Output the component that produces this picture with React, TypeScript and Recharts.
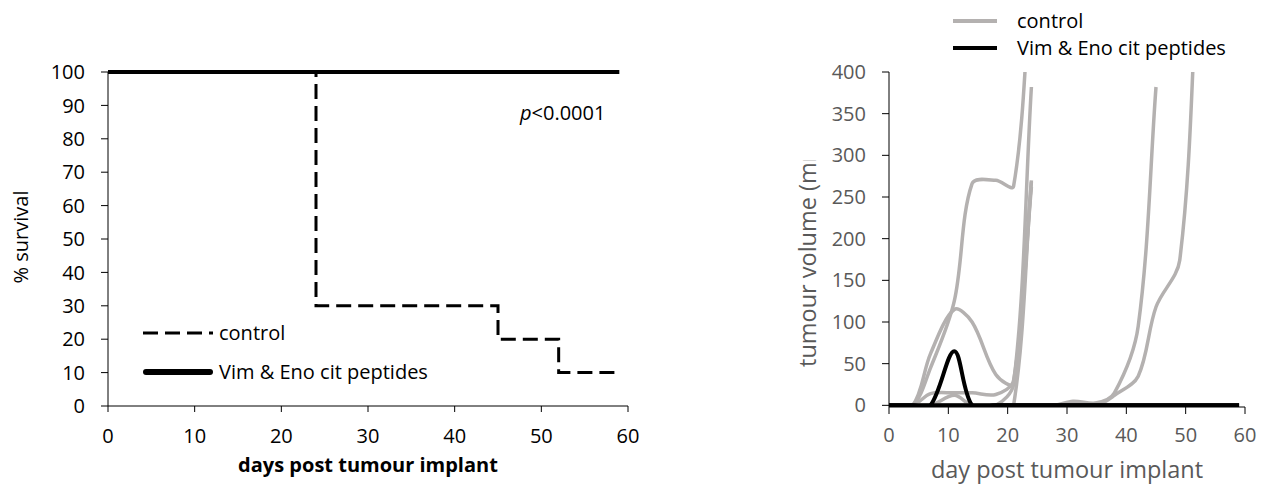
import React from "react";
import { LineChart, Line, XAxis, YAxis, Label, Legend } from "recharts";

// Two panels side by side: Kaplan–Meier survival (left) and per-mouse
// tumour growth curves (right). Fonts approximate the Office look.
const FONT = '"Open Sans", "DejaVu Sans", sans-serif';
const GREY = "#b4b1b0";
const TEXT_GREY = "#595959";

// ---- survival (% alive per group) ----
const survDaysControl = [0, 24, 45, 52, 59];
const survControl = [100, 30, 20, 10, 10];
const survDaysVim = [0, 59];
const survVim = [100, 100];
const dayTicks = [0, 10, 20, 30, 40, 50, 60];
const survTicks = [0, 10, 20, 30, 40, 50, 60, 70, 80, 90, 100];

// ---- tumour volume, one array per mouse ----
const daysTo24 = [0, 4, 7, 11, 14, 18, 21, 24];
const daysTo45 = [0, 4, 7, 11, 14, 18, 21, 24, 28, 31, 35, 38, 42, 45];
const daysTo52 = [0, 4, 7, 11, 14, 18, 21, 24, 28, 31, 35, 38, 42, 45, 49, 52];
const daysTo59 = [0, 4, 7, 11, 14, 18, 21, 24, 28, 31, 35, 38, 42, 45, 49, 52, 56, 59];

const ctrl1 = [0, 0, 45, 125, 266, 270, 263, 520];
const ctrl2 = [0, 0, 62, 115, 100, 37, 26, 382];
const ctrl3 = [0, 0, 14, 15, 15, 13, 30, 268];
const ctrl4 = [0, 0, 0, 12, 0, 0, 25, 262];
const ctrl5 = [0, 0, 0, 0, 0, 0, 0, 270];
const ctrl6 = [0, 0, 0, 0, 0, 0, 0, 0, 0, 5, 3, 15, 95, 382];
const ctrl7 = [0, 0, 0, 0, 0, 0, 0, 0, 0, 0, 0, 12, 35, 118, 174, 520];
const ctrl8 = [0, 0, 0, 0, 0, 0, 0, 0, 0, 0, 0, 0, 0, 0, 0, 0, 0, 0];
const vim1 = [0, 0, 0, 65, 0, 0, 0, 0, 0, 0, 0, 0, 0, 0, 0, 0, 0, 0];
const vim2 = [0, 0, 0, 0, 0, 0, 0, 0, 0, 0, 0, 0, 0, 0, 0, 0, 0, 0];
const volTicks = [0, 50, 100, 150, 200, 250, 300, 350, 400];

const controlMice = [
  { days: daysTo24, vals: ctrl1 },
  { days: daysTo24, vals: ctrl2 },
  { days: daysTo24, vals: ctrl3 },
  { days: daysTo24, vals: ctrl4 },
  { days: daysTo24, vals: ctrl5 },
  { days: daysTo45, vals: ctrl6 },
  { days: daysTo52, vals: ctrl7 },
  { days: daysTo59, vals: ctrl8 },
];
const vimMice = [
  { days: daysTo59, vals: vim2 },
  { days: daysTo59, vals: vim1 },
];

const pts = (days: number[], vals: number[]) => days.map((d, i) => ({ day: d, v: vals[i] }));

// Office-style smoothed line: cubic Bezier through every point, tangent
// length weighted by the neighbouring segment lengths (limits overshoot).
const officeSmooth = (context: any) => {
  let p: number[][] = [];
  const dist = (a: number[], b: number[]) => Math.hypot(b[0] - a[0], b[1] - a[1]);
  return {
    areaStart() {},
    areaEnd() {},
    lineStart() {
      p = [];
    },
    point(x: number, y: number) {
      p.push([+x, +y]);
    },
    lineEnd() {
      const n = p.length;
      if (!n) return;
      context.moveTo(p[0][0], p[0][1]);
      if (n === 1) return;
      const ctl = p.map((pi, i) => {
        const prev = p[i - 1] ?? pi;
        const next = p[i + 1] ?? pi;
        const tx = next[0] - prev[0];
        const ty = next[1] - prev[1];
        const dIn = dist(prev, pi);
        const dOut = dist(pi, next);
        const s = dIn + dOut || 1;
        return {
          inX: pi[0] - (tx * dIn) / s / 3,
          inY: pi[1] - (ty * dIn) / s / 3,
          outX: pi[0] + (tx * dOut) / s / 3,
          outY: pi[1] + (ty * dOut) / s / 3,
        };
      });
      for (let i = 0; i < n - 1; i++) {
        context.bezierCurveTo(ctl[i].outX, ctl[i].outY, ctl[i + 1].inX, ctl[i + 1].inY, p[i + 1][0], p[i + 1][1]);
      }
    },
  };
};

function SurvivalKey() {
  const row: React.CSSProperties = { display: "flex", alignItems: "center", height: 26 };
  return (
    <div style={{ width: 330, fontFamily: FONT, fontSize: 20, color: "#000", lineHeight: "26px" }}>
      <div style={row}>
        <svg width={70} height={8}>
          <line x1={0} y1={4} x2={70} y2={4} stroke="#000" strokeWidth={3} strokeDasharray="15 7" />
        </svg>
        <span style={{ marginLeft: 6 }}>control</span>
      </div>
      <div style={{ ...row, marginTop: 13 }}>
        <svg width={70} height={8}>
          <line x1={3} y1={4} x2={67} y2={4} stroke="#000" strokeWidth={6} strokeLinecap="round" />
        </svg>
        <span style={{ marginLeft: 6 }}>Vim &amp; Eno cit peptides</span>
      </div>
    </div>
  );
}

function GrowthKey() {
  const row: React.CSSProperties = { display: "flex", alignItems: "center", height: 26 };
  return (
    <div style={{ width: 320, fontFamily: FONT, fontSize: 20, color: "#000", lineHeight: "26px" }}>
      <div style={row}>
        <svg width={44} height={8}>
          <line x1={0} y1={4} x2={44} y2={4} stroke={GREY} strokeWidth={4} />
        </svg>
        <span style={{ marginLeft: 20 }}>control</span>
      </div>
      <div style={{ ...row, marginTop: 1 }}>
        <svg width={44} height={8}>
          <line x1={0} y1={4} x2={44} y2={4} stroke="#000" strokeWidth={4} />
        </svg>
        <span style={{ marginLeft: 20 }}>Vim &amp; Eno cit peptides</span>
      </div>
    </div>
  );
}

export default function App() {
  return (
    <div style={{ position: "absolute", left: 0, top: 0, width: 1266, height: 489, background: "#fff", fontFamily: FONT }}>
      <div style={{ position: "absolute", left: 0, top: 0 }}>
        <LineChart width={660} height={489} margin={{ top: 72, right: 32, bottom: 23, left: 48 }}>
          <XAxis
            type="number"
            dataKey="day"
            domain={[0, 60]}
            ticks={dayTicks}
            interval={0}
            tickSize={6}
            tickMargin={17}
            height={60}
            stroke="#000"
            tick={{ fill: "#000", fontSize: 20, fontFamily: FONT }}
          >
            <Label
              content={() => (
                <text x={368} y={472} textAnchor="middle" fontFamily={FONT} fontSize={20} fontWeight="bold" fill="#000">
                  days post tumour implant
                </text>
              )}
            />
          </XAxis>
          <YAxis
            type="number"
            domain={[0, 100]}
            ticks={survTicks}
            interval={0}
            width={60}
            tickSize={7}
            tickMargin={16}
            stroke="#000"
            tick={{ fill: "#000", fontSize: 20, fontFamily: FONT }}
          >
            <Label
              content={() => (
                <g>
                  <text x={28} y={237} transform="rotate(-90 28 237)" textAnchor="middle" fontFamily={FONT} fontSize={20} fill="#000">
                    % survival
                  </text>
                  <text x={520} y={120} fontFamily={FONT} fontSize={20} fill="#000">
                    <tspan fontStyle="italic">p</tspan>&lt;0.0001
                  </text>
                </g>
              )}
            />
          </YAxis>
          <Legend
            layout="horizontal"
            verticalAlign="middle"
            align="center"
            content={() => <SurvivalKey />}
            wrapperStyle={{ left: 143, top: 320, width: 330 }}
          />
          <Line
            data={pts(survDaysControl, survControl)}
            dataKey="v"
            type="stepAfter"
            stroke="#000"
            strokeWidth={3}
            strokeDasharray="15 7"
            dot={false}
            activeDot={false}
            isAnimationActive={false}
          />
          <Line
            data={pts(survDaysVim, survVim)}
            dataKey="v"
            type="stepAfter"
            stroke="#000"
            strokeWidth={4}
            dot={false}
            activeDot={false}
            isAnimationActive={false}
          />
        </LineChart>
      </div>

      <div style={{ position: "absolute", left: 760, top: 0 }}>
        <LineChart width={506} height={489} margin={{ top: 72, right: 21, bottom: 22, left: 69 }}>
          <XAxis
            type="number"
            dataKey="day"
            domain={[0, 60]}
            ticks={dayTicks}
            interval={0}
            tickSize={7}
            tickMargin={14}
            height={60}
            stroke="#000"
            tick={{ fill: TEXT_GREY, fontSize: 20, fontFamily: FONT }}
          >
            <Label
              content={() => (
                <text x={307} y={478} textAnchor="middle" fontFamily={FONT} fontSize={23.5} fill={TEXT_GREY}>
                  day post tumour implant
                </text>
              )}
            />
          </XAxis>
          <YAxis
            type="number"
            domain={[-2, 400]}
            allowDataOverflow
            ticks={volTicks}
            interval={0}
            width={60}
            tickSize={7}
            tickMargin={16}
            stroke="#000"
            tick={{ fill: TEXT_GREY, fontSize: 20, fontFamily: FONT }}
          >
            <Label
              content={() => (
                <g>
                  <defs>
                    {/* the axis title box is shorter than the title itself */}
                    <clipPath id="vol-title-clip">
                      <rect x={0} y={160} width={120} height={329} />
                    </clipPath>
                  </defs>
                  <g clipPath="url(#vol-title-clip)">
                    <text
                      x={56}
                      y={367}
                      transform="rotate(-90 56 367)"
                      textAnchor="start"
                      fontFamily={FONT}
                      fontSize={23.5}
                      fill={TEXT_GREY}
                    >
                      tumour volume (mm³)
                    </text>
                  </g>
                </g>
              )}
            />
          </YAxis>
          <Legend
            layout="horizontal"
            verticalAlign="middle"
            align="center"
            content={() => <GrowthKey />}
            wrapperStyle={{ left: 193, top: 8, width: 320 }}
          />
          {controlMice.map((m, i) => (
            <Line
              key={`c${i}`}
              data={pts(m.days, m.vals)}
              dataKey="v"
              type={officeSmooth as any}
              stroke={GREY}
              strokeWidth={3.5}
              dot={false}
              activeDot={false}
              isAnimationActive={false}
            />
          ))}
          {vimMice.map((m, i) => (
            <Line
              key={`v${i}`}
              data={pts(m.days, m.vals)}
              dataKey="v"
              type={officeSmooth as any}
              stroke="#000"
              strokeWidth={4}
              dot={false}
              activeDot={false}
              isAnimationActive={false}
            />
          ))}
        </LineChart>
      </div>
    </div>
  );
}
